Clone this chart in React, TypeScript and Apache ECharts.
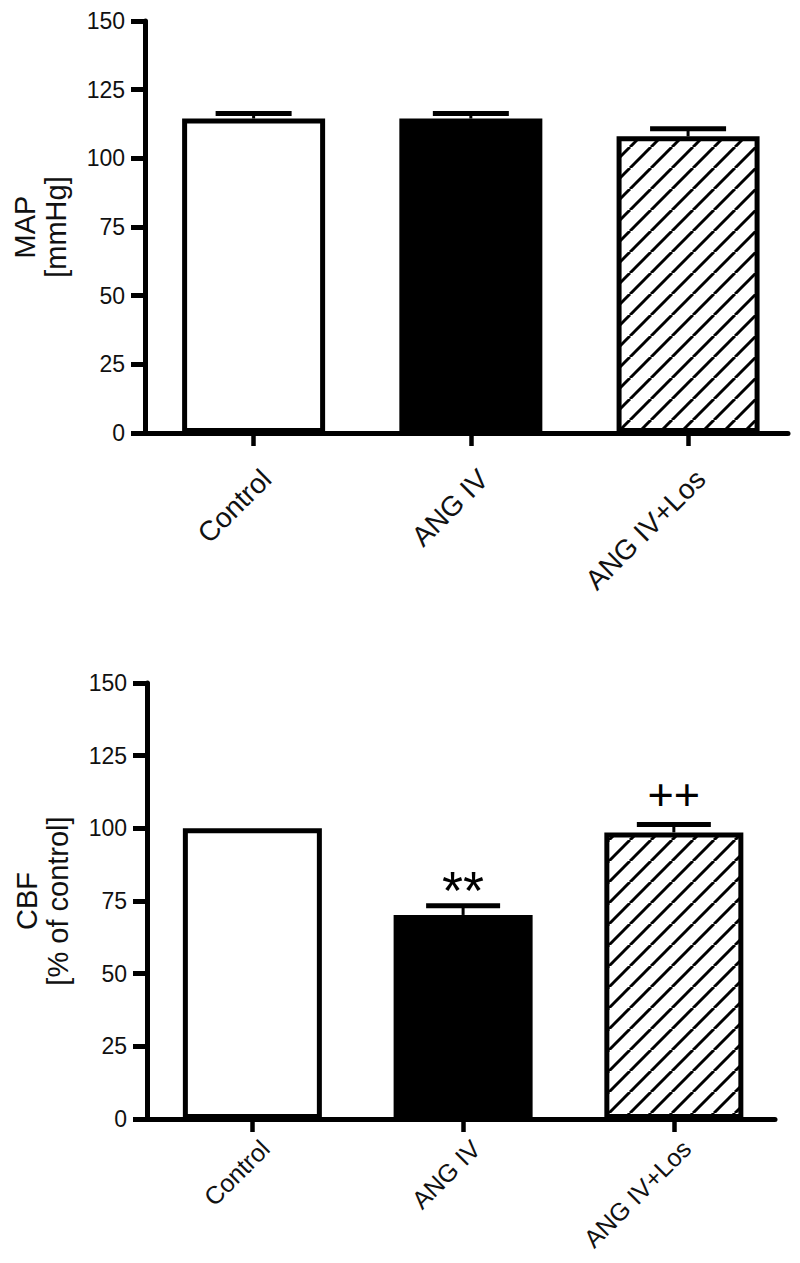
import React, { useEffect, useRef } from 'react';
import * as echarts from 'echarts';

// ---------- data ----------
const categories = ['Control', 'ANG IV', 'ANG IV+Los'];
const categoryIndex = [0, 1, 2];
const yTicks = [0, 25, 50, 75, 100, 125, 150];

const mapMean = [114.5, 114.5, 108.0];
const mapSem = [1.8, 1.8, 2.8];
const mapMarks = ['', '', ''];

const cbfMean = [100, 70.2, 98.6];
const cbfSem = [0, 3.2, 2.7];
const cbfMarks = ['', '**', '++'];

// ---------- styling ----------
const FONT = "'Liberation Sans', Arial, Helvetica, sans-serif";
const INK = '#000';
const TXT = '#111';

function makeHatch(): string {
  const s = 21;
  const c = document.createElement('canvas');
  c.width = s;
  c.height = s;
  const ctx = c.getContext('2d')!;
  ctx.fillStyle = '#fff';
  ctx.fillRect(0, 0, s, s);
  ctx.strokeStyle = '#000';
  ctx.lineWidth = 3;
  for (let k = -1; k <= 1; k++) {
    ctx.beginPath();
    ctx.moveTo(k * s, s);
    ctx.lineTo(k * s + s, 0);
    ctx.stroke();
  }
  return c.toDataURL();
}

const markStyle: Record<string, { size: number; dy: number }> = {
  '**': { size: 54, dy: -16 },
  '++': { size: 45, dy: -30 },
};

export default function App() {
  const ref = useRef<HTMLDivElement>(null);

  useEffect(() => {
    if (!ref.current) return;
    const chart = echarts.init(ref.current, undefined, { renderer: 'svg' });
    const hatch = { image: makeHatch(), repeat: 'repeat', imageWidth: 21, imageHeight: 21 };
    const fills: any[] = ['#fff', '#000', hatch];

    const panels = [
      { mean: mapMean, sem: mapSem, marks: mapMarks, title: ['MAP', '[mmHg]'], grid: { left: 145, top: 21, width: 643, height: 412 }, xMax: 2.46, barW: 143, capW: 76, catFont: 28, catMargin: 54 },
      { mean: cbfMean, sem: cbfSem, marks: cbfMarks, title: ['CBF', '[% of control]'], grid: { left: 147, top: 683, width: 628, height: 436 }, xMax: 2.48, barW: 139, capW: 74, catFont: 25, catMargin: 38 },
    ];

    const grid: any[] = [];
    const xAxis: any[] = [];
    const yAxis: any[] = [];
    const series: any[] = [];

    panels.forEach((p, gi) => {
      grid.push({ ...p.grid, containLabel: false });
      xAxis.push({
        type: 'value',
        gridIndex: gi,
        min: -0.5,
        max: p.xMax,
        splitLine: { show: false },
        axisLine: { show: true, onZero: false, lineStyle: { color: INK, width: 5 } },
        axisTick: { show: true, customValues: categoryIndex, length: 13, lineStyle: { color: INK, width: 4.5 } },
        axisLabel: {
          show: true,
          customValues: categoryIndex,
          formatter: (v: number) => categories[Math.round(v)],
          rotate: 45,
          margin: p.catMargin,
          padding: [0, -18, 0, 0],
          fontSize: p.catFont,
          fontFamily: FONT,
          color: TXT,
        },
      });
      yAxis.push({
        type: 'value',
        gridIndex: gi,
        min: 0,
        max: 150,
        interval: 25,
        splitLine: { show: false },
        axisLine: { show: true, onZero: false, lineStyle: { color: INK, width: 5 } },
        axisTick: { show: true, length: 14, lineStyle: { color: INK, width: 5 } },
        axisLabel: {
          margin: 20,
          fontSize: 23,
          fontFamily: FONT,
          color: TXT,
          formatter: (v: number) => (yTicks.includes(v) ? String(v) : ''),
        },
        name: p.title.join('\n'),
        nameLocation: 'middle',
        nameRotate: 90,
        nameGap: 74,
        nameTextStyle: {
          fontFamily: FONT,
          fontSize: 29,
          lineHeight: 31,
          color: TXT,
        },
      });

      series.push({
        type: 'bar',
        xAxisIndex: gi,
        yAxisIndex: gi,
        barWidth: p.barW,
        data: p.mean.map((m, i) => ({
          value: [categoryIndex[i], m],
          itemStyle: { color: fills[i], borderColor: INK, borderWidth: 5 },
        })),
      });

      series.push({
        type: 'custom',
        xAxisIndex: gi,
        yAxisIndex: gi,
        z: 5,
        data: p.mean.map((m, i) => [categoryIndex[i], m, p.sem[i], i]),
        renderItem: (params: any, api: any) => {
          const x = api.value(0);
          const m = api.value(1);
          const e = api.value(2);
          const idx = api.value(3);
          const base = api.coord([x, m]);
          const top = api.coord([x, m + e]);
          const children: any[] = [];
          if (e > 0) {
            children.push({
              type: 'line',
              shape: { x1: base[0], y1: base[1], x2: top[0], y2: top[1] },
              style: { stroke: INK, lineWidth: 3 },
            });
            children.push({
              type: 'line',
              shape: { x1: top[0] - p.capW / 2, y1: top[1], x2: top[0] + p.capW / 2, y2: top[1] },
              style: { stroke: INK, lineWidth: 5 },
            });
          }
          const mk = p.marks[idx];
          if (mk) {
            const ms = markStyle[mk];
            children.push({
              type: 'text',
              x: top[0],
              y: top[1] + ms.dy,
              style: {
                text: mk,
                fontSize: ms.size,
                fontFamily: FONT,
                fill: INK,
                textAlign: 'center',
                textVerticalAlign: 'middle',
              },
            });
          }
          return { type: 'group', children };
        },
      });
    });

    chart.setOption({
      animation: false,
      backgroundColor: '#fff',
      grid,
      xAxis,
      yAxis,
      series,
      tooltip: { show: false },
    });

    return () => chart.dispose();
  }, []);

  return (
    <div
      ref={ref}
      style={{ position: 'absolute', left: 0, top: 0, width: 800, height: 1263, background: '#fff' }}
    />
  );
}
